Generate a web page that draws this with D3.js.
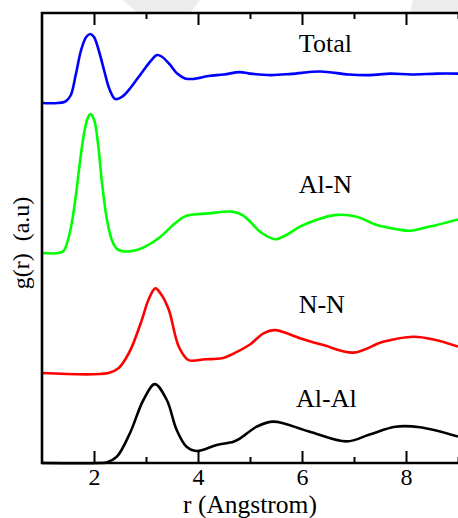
<!DOCTYPE html>
<html>
<head>
<meta charset="utf-8">
<script src="https://cdn.jsdelivr.net/npm/d3@7"></script>
<style>
  html, body { margin: 0; padding: 0; background: #fff; }
  svg { display: block; }
</style>
</head>
<body>
<svg id="chart" width="458" height="518"></svg>
<script>
// r values (Angstrom) and g(r), one pair of arrays per curve
const totalR = [1.0, 1.3, 1.45, 1.55, 1.65, 1.75, 1.85, 1.93, 2.0, 2.1, 2.2, 2.3, 2.41, 2.55, 2.7, 2.85, 3.0, 3.1, 3.21, 3.3, 3.45, 3.6, 3.75, 3.9, 4.2, 4.5, 4.8, 5.0, 5.4, 5.8, 6.35, 6.9, 7.3, 7.7, 8.1, 8.6, 9.0]
const totalG = [0, 0, 0.05, 0.25, 0.95, 1.75, 2.2, 2.3, 2.2, 1.7, 1.05, 0.45, 0.13, 0.22, 0.5, 0.85, 1.2, 1.42, 1.6, 1.55, 1.3, 0.98, 0.82, 0.8, 0.9, 0.95, 1.03, 0.98, 0.93, 0.97, 1.05, 0.95, 0.93, 0.98, 0.95, 0.98, 0.98]

const alnR = [1.0, 1.32, 1.42, 1.55, 1.65, 1.72, 1.8, 1.87, 1.93, 2.0, 2.08, 2.15, 2.25, 2.35, 2.45, 2.6, 2.92, 3.24, 3.56, 3.76, 4.2, 4.65, 4.85, 5.0, 5.2, 5.48, 5.7, 5.96, 6.3, 6.67, 7.05, 7.44, 7.8, 8.08, 8.46, 9.0]
const alnG = [0, 0, 0.08, 0.8, 1.9, 2.9, 3.9, 4.45, 4.63, 4.45, 3.6, 2.4, 1.1, 0.4, 0.12, 0.05, 0.16, 0.49, 0.99, 1.23, 1.32, 1.38, 1.27, 1.05, 0.7, 0.46, 0.6, 0.88, 1.12, 1.27, 1.21, 0.93, 0.8, 0.74, 0.88, 1.12]

const nnR = [1.0, 2.28, 2.47, 2.6, 2.73, 2.92, 3.05, 3.18, 3.3, 3.44, 3.63, 3.82, 4.14, 4.46, 4.72, 5.0, 5.26, 5.48, 5.96, 6.41, 6.99, 7.56, 8.14, 8.53, 9.0]
const nnG = [0, 0, 0.16, 0.45, 0.88, 1.77, 2.45, 2.82, 2.6, 2.1, 0.88, 0.43, 0.46, 0.49, 0.68, 0.95, 1.32, 1.43, 1.16, 0.93, 0.68, 1.04, 1.21, 1.12, 0.88]

const alalR = [1.0, 2.1, 2.24, 2.44, 2.69, 2.95, 3.17, 3.4, 3.59, 3.78, 3.97, 4.36, 4.68, 4.81, 5.13, 5.45, 6.12, 6.86, 7.3, 7.8, 8.27, 9.0]
const alalG = [0, 0, 0.02, 0.21, 0.99, 2.1, 2.63, 2.1, 1.1, 0.54, 0.4, 0.6, 0.71, 0.82, 1.21, 1.38, 1.06, 0.72, 0.95, 1.21, 1.19, 0.88]

const seriesNames = ['Total', 'Al-N', 'N-N', 'Al-Al']
const seriesColors = ['#0000ff', '#00ff00', '#ff0000', '#000000']
const seriesOffsets = [12, 7, 3, 0]
const seriesR = [totalR, alnR, nnR, alalR]
const seriesG = [totalG, alnG, nnG, alalG]
const labelR = [6.45, 6.45, 6.38, 6.47]
const labelY = [13.7, 9.0, 5.0, 1.87]

const xMajor = [2, 4, 6, 8]
const xMinor = [3, 5, 7, 9]

const serif = '"Liberation Serif", "Times New Roman", Times, serif'
const margin = { left: 42, top: 13, right: 0, bottom: 55 }
const width = 458, height = 518
const svg = d3.select('#chart')

const x = d3.scaleLinear().domain([1, 9]).range([margin.left, margin.left + 8 * 52])
const y = d3.scaleLinear().domain([0, 15]).range([height - margin.bottom, margin.top])

// faint grey shapes at the top edge of the picture
svg.append('path')
  .attr('d', 'M123,0 L137,13 L190,13 L200,0 Z')
  .attr('fill', '#ececec')
svg.append('path')
  .attr('d', 'M413,0 L410,13 L458,13 L458,0 Z')
  .attr('fill', '#ececec')

let line = d3.line()
  .x(function (d) { return x(d[0]) })
  .y(function (d) { return y(d[1]) })
  .curve(d3.curveCatmullRom.alpha(0.5))

seriesNames.forEach(function (name, i) {
  let pts = seriesR[i].map(function (r, j) { return [r, seriesG[i][j] + seriesOffsets[i]] })
  svg.append('path')
    .datum(pts)
    .attr('fill', 'none')
    .attr('stroke', seriesColors[i])
    .attr('stroke-width', 2.6)
    .attr('stroke-linejoin', 'round')
    .attr('d', line)

  svg.append('text')
    .attr('x', x(labelR[i]))
    .attr('y', y(labelY[i]))
    .attr('text-anchor', 'middle')
    .style('font-family', serif)
    .style('font-size', '26px')
    .text(name)
})

// ticks: major and minor, drawn inward on bottom and top
function tickAxis (axisFn, values, size, ypos, labels) {
  let g = svg.append('g')
    .attr('transform', 'translate(0,' + ypos + ')')
    .call(axisFn(x).tickValues(values).tickSizeInner(size).tickSizeOuter(0)
      .tickPadding(5)
      .tickFormat(d3.format('d')))
  g.select('.domain').remove()
  g.selectAll('.tick line').attr('stroke', '#000').attr('stroke-width', 2)
  if (labels) {
    g.selectAll('.tick text')
      .attr('fill', '#000')
      .style('font-family', serif)
      .style('font-size', '24px')
  } else {
    g.selectAll('.tick text').remove()
  }
  return g
}
tickAxis(d3.axisBottom, xMajor, -12, y(0), true)
tickAxis(d3.axisBottom, xMinor, -6, y(0), false)
tickAxis(d3.axisTop, xMajor, -12, margin.top, false)
tickAxis(d3.axisTop, xMinor, -6, margin.top, false)

// frame (left, top, bottom; the right side runs past the picture)
svg.append('path')
  .attr('d', 'M' + (width + 2) + ',' + y(15) + ' H' + x(1) + ' V' + y(0) + ' H' + (width + 2))
  .attr('fill', 'none')
  .attr('stroke', '#000')
  .attr('stroke-width', 2.6)

svg.append('text')
  .attr('x', 250)
  .attr('y', 512.5)
  .attr('text-anchor', 'middle')
  .style('font-family', serif)
  .style('font-size', '25.5px')
  .text('r (Angstrom)')

svg.append('text')
  .attr('transform', 'translate(29,' + 243 + ') rotate(-90)')
  .attr('text-anchor', 'middle')
  .style('font-family', serif)
  .style('font-size', '24px')
  .style('white-space', 'pre')
  .text('g(r)  (a.u)')
</script>
</body>
</html>
